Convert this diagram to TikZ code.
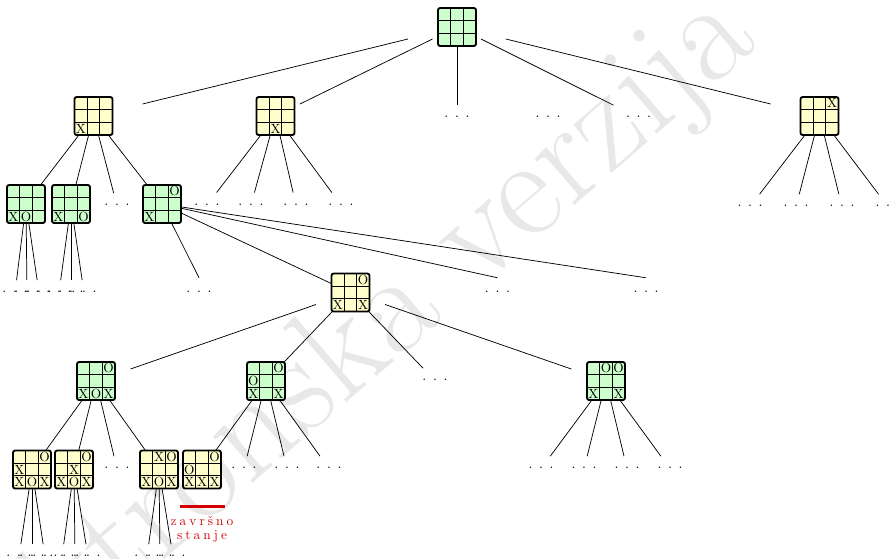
\documentclass[tikz,border=0pt]{standalone}
\usepackage{fontspec}
\usetikzlibrary{calc}
\definecolor{bgreen}{RGB}{204,255,204}
\definecolor{byellow}{RGB}{255,255,204}
\definecolor{finred}{RGB}{210,0,0}
\newcommand\mydots{.\kern5pt.\kern5pt.}
\newcommand\lsp{\kern2.3pt}
\tikzset{
  board/.style={draw=black, line width=1.4pt, rounded corners=1.6pt, minimum size=28.5pt, inner sep=0pt, outer sep=0pt},
  gridline/.style={line width=0.55pt},
  mk/.style={inner sep=0pt, text height=6.83pt, text depth=0pt, font=\fontsize{10}{12}\selectfont},
  dotsnode/.style={inner sep=0pt, text height=11pt, text depth=0pt, anchor=base, font=\fontsize{10.5}{12}\selectfont},
  edge/.style={line width=0.55pt},
  finlabel/.style={text=finred, inner sep=0pt, anchor=base, font=\fontsize{10}{12}\selectfont},
  finbar/.style={draw=finred, line width=2.2pt},
  wmark/.style={text=black!9, rotate=40.8, inner sep=0pt, font=\fontsize{107}{110}\selectfont}
}
\newcommand\tttboard[3]{%
  \node[board, fill=#3] (#1) at (#2) {};
  \draw[gridline]
    ($(#1.north west)!1/3!(#1.north east)$) -- ($(#1.south west)!1/3!(#1.south east)$)
    ($(#1.north west)!2/3!(#1.north east)$) -- ($(#1.south west)!2/3!(#1.south east)$)
    ($(#1.north west)!1/3!(#1.south west)$) -- ($(#1.north east)!1/3!(#1.south east)$)
    ($(#1.north west)!2/3!(#1.south west)$) -- ($(#1.north east)!2/3!(#1.south east)$);}
\newcommand\cellmarks[2]{\foreach \c/\r/\m in {#2}{\node[mk] at ($(#1)+(\c*12.67,\r*12.67)$) {\m};}}
\newcommand\dotsn[2]{\node[dotsnode] (#1) at (#2) {\mydots};}
% board -> board edge
\newcommand\edgeB[3][9]{%
  \draw[edge] let \p1=(#2), \p2=(#3), \n1={abs(\y2-\y1)}, \n2={max(abs(\x2-\x1),\n1)},
    \n3={veclen(\x2-\x1,\y2-\y1)}, \n4={max(#1,14.25*\n1/\n2)*\n3/\n1}
  in ($(#2)!\n4!(#3)$) -- ($(#3)!\n4!(#2)$);}
% board -> dots edge
\newcommand\edgeD[3][9]{%
  \draw[edge] let \p1=(#2), \p2=(#3.base), \n1={abs(\y2-\y1)}, \n2={max(abs(\x2-\x1),\n1)},
    \n3={veclen(\x2-\x1,\y2-\y1)}, \n4={max(#1,14.25*\n1/\n2)*\n3/\n1}, \n5={9.375*\n3/\n1}
  in ($(#2)!\n4!(#3.base)$) -- ($(#3.base)!\n5!(#2)$);}
\begin{document}
\begin{tikzpicture}[x=0.75pt,y=-0.75pt]
\useasboundingbox (0,0) rectangle (893,558);
\node[wmark] (wm) at (323.5,376.5) {Elektronska verzija};
% boards
\tttboard{T}{457,27}{bgreen}
\tttboard{A}{93.5,116}{byellow}\cellmarks{A}{-1/1/X}
\tttboard{B}{275.5,116}{byellow}\cellmarks{B}{0/1/X}
\tttboard{F}{819.5,116}{byellow}\cellmarks{F}{1/-1/X}
\tttboard{A1}{26,204}{bgreen}\cellmarks{A1}{-1/1/X,0/1/O}
\tttboard{A2}{71,204}{bgreen}\cellmarks{A2}{-1/1/X,1/1/O}
\tttboard{A4}{162,204}{bgreen}\cellmarks{A4}{1/-1/O,-1/1/X}
\tttboard{M}{350.5,292.5}{byellow}\cellmarks{M}{1/-1/O,-1/1/X,1/1/X}
\tttboard{C1}{96,381}{bgreen}\cellmarks{C1}{1/-1/O,-1/1/X,0/1/O,1/1/X}
\tttboard{C2}{266,381}{bgreen}\cellmarks{C2}{1/-1/O,-1/0/O,-1/1/X,1/1/X}
\tttboard{C4}{606,381}{bgreen}\cellmarks{C4}{0/-1/O,1/-1/O,-1/1/X,1/1/X}
\tttboard{L1}{32,469.5}{byellow}\cellmarks{L1}{1/-1/O,-1/0/X,-1/1/X,0/1/O,1/1/X}
\tttboard{L2}{74,469.5}{byellow}\cellmarks{L2}{1/-1/O,0/0/X,-1/1/X,0/1/O,1/1/X}
\tttboard{L4}{159,469.5}{byellow}\cellmarks{L4}{0/-1/X,1/-1/O,-1/1/X,0/1/O,1/1/X}
\tttboard{L5}{202,469.5}{byellow}\cellmarks{L5}{1/-1/O,-1/0/O,-1/1/X,0/1/X,1/1/X}
% dots
\dotsn{d1}{457,117.7}\dotsn{d2}{548,117.7}\dotsn{d3}{638.5,117.7}
\dotsn{f1}{750,206.7}\dotsn{f2}{796,206.7}\dotsn{f3}{842,206.7}\dotsn{f4}{888,206.7}
\dotsn{a3}{117,205.7}
\dotsn{b1}{207,205}\dotsn{b2}{251,205}\dotsn{b3}{296,205}\dotsn{b4}{341,205}
\dotsn{a11}{15,292.7}\dotsn{a12}{27,292.7}\dotsn{a13}{39,292.7}
\dotsn{a21}{59,292.7}\dotsn{a22}{71,292.7}\dotsn{a23}{84,292.7}
\dotsn{e1}{199,292.7}\dotsn{e3}{497.5,292.7}\dotsn{e4}{646,292.7}
\dotsn{m3}{435,380.7}
\dotsn{k3}{117,468.7}
\dotsn{c22}{244,468.7}\dotsn{c23}{287,468.7}\dotsn{c24}{329,468.7}
\dotsn{g1}{541,468.7}\dotsn{g2}{584,468.7}\dotsn{g3}{627,468.7}\dotsn{g4}{670,468.7}
\dotsn{l11}{19,556.7}\dotsn{l12}{32,556.7}\dotsn{l13}{45,556.7}
\dotsn{l21}{62,556.7}\dotsn{l22}{75,556.7}\dotsn{l23}{88,556.7}
\dotsn{l41}{147,556.7}\dotsn{l42}{160,556.7}\dotsn{l43}{173,556.7}
% edges
\edgeB{T}{A}\edgeB{T}{B}\edgeD{T}{d1}\edgeD{T}{d3}\edgeB{T}{F}
\edgeB{A}{A1}\edgeB{A}{A2}\edgeD{A}{a3}\edgeB{A}{A4}
\edgeD{B}{b1}\edgeD{B}{b2}\edgeD{B}{b3}\edgeD{B}{b4}
\edgeD{F}{f1}\edgeD{F}{f2}\edgeD{F}{f3}\edgeD{F}{f4}
\edgeD{A1}{a11}\edgeD{A1}{a12}\edgeD{A1}{a13}
\edgeD{A2}{a21}\edgeD{A2}{a22}\edgeD{A2}{a23}
\draw[edge] (A4) -- (e1.north);
\draw[edge] (A4) -- (M);
\draw[edge] (A4) -- (e3.north);
\draw[edge] (A4) -- (e4.north);
\edgeB{M}{C1}\edgeB{M}{C2}\edgeD{M}{m3}\edgeB{M}{C4}
\edgeB{C1}{L1}\edgeB{C1}{L2}\edgeD{C1}{k3}\edgeB{C1}{L4}
\edgeB{C2}{L5}\edgeD{C2}{c22}\edgeD{C2}{c23}\edgeD{C2}{c24}
\edgeD{C4}{g1}\edgeD{C4}{g2}\edgeD{C4}{g3}\edgeD{C4}{g4}
\edgeD{L1}{l11}\edgeD{L1}{l12}\edgeD{L1}{l13}
\edgeD{L2}{l21}\edgeD{L2}{l22}\edgeD{L2}{l23}
\edgeD{L4}{l41}\edgeD{L4}{l42}\edgeD{L4}{l43}
% final state label
\draw[finbar] ($(L5)+(-22,37.2)$) -- ($(L5)+(23,37.2)$);
\node[finlabel] (fs1) at ($(L5)+(0,55.5)$) {z\lsp a\lsp v\lsp r\lsp š\lsp n\lsp o};
\node[finlabel] (fs2) at ($(L5)+(0,69.5)$) {s\lsp t\lsp a\lsp n\lsp j\lsp e};
\end{tikzpicture}
\end{document}
